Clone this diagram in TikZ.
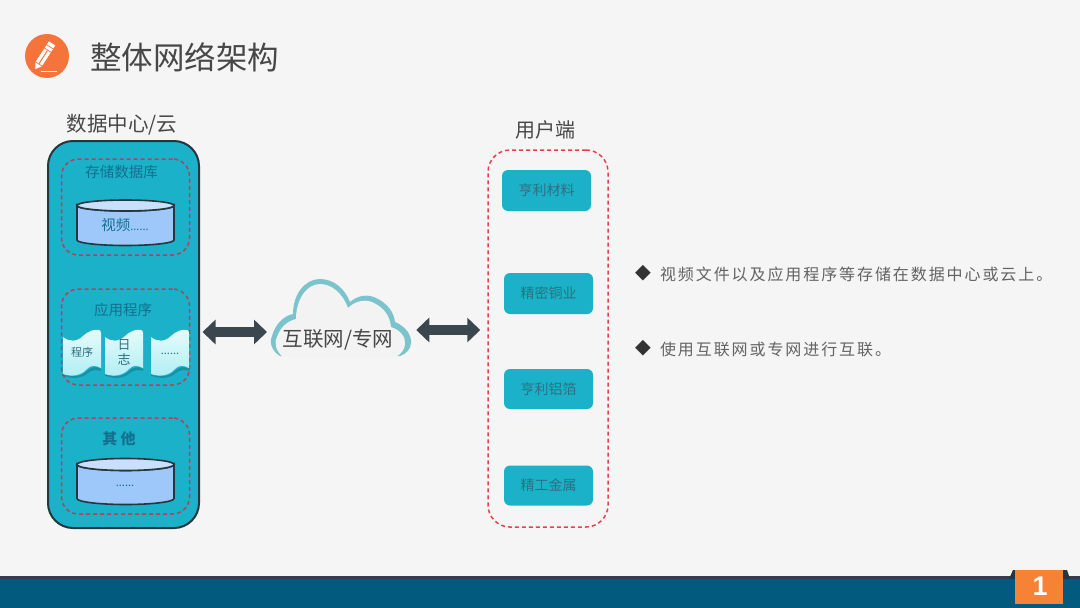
\documentclass[tikz,border=0pt]{standalone}
\usepackage{fontspec}
\setmainfont{Noto Sans CJK SC}
\newfontfamily\cardfont{Liberation Sans}
\usetikzlibrary{arrows.meta,calc}
\definecolor{bgc}{HTML}{F5F5F5}
\definecolor{tealc}{HTML}{1AB1C9}
\definecolor{dcline}{HTML}{25363F}
\definecolor{redd}{HTML}{B5405A}
\definecolor{redu}{HTML}{E8404F}
\definecolor{bluet}{HTML}{14708E}
\definecolor{grayt}{HTML}{474747}
\definecolor{boxt}{HTML}{2F7080}
\definecolor{oran}{HTML}{F4743B}
\definecolor{barc}{HTML}{025A7E}
\definecolor{cylb}{HTML}{9EC8F9}
\definecolor{cylt}{HTML}{C8E0FC}
\definecolor{arrowc}{HTML}{3A474E}
\definecolor{cloudo}{HTML}{7CC4CD}
\definecolor{cloudi}{HTML}{F3F3F3}
\definecolor{scrolltop}{HTML}{E6FBFB}
\definecolor{scrollbot}{HTML}{B0EEF4}
\tikzset{
  txt/.style={inner sep=0pt,outer sep=0pt,align=center},
  dcbox/.style={draw=dcline,line width=2pt,fill=tealc,rounded corners=25pt,minimum width=151pt,minimum height=387pt,inner sep=0pt},
  innerdash/.style={draw=redd,line width=1.5pt,dash pattern=on 4pt off 3pt,rounded corners=17pt,minimum width=128pt,inner sep=0pt},
  userdash/.style={draw=redu,line width=1.5pt,dash pattern=on 4pt off 3pt,rounded corners=22pt,minimum width=120pt,minimum height=377pt,inner sep=0pt},
  ubox/.style={fill=tealc,rounded corners=6pt,minimum width=89pt,minimum height=40pt,inner sep=0pt,font=\fontsize{14}{16}\selectfont,text=boxt},
  blockarrow/.style={draw=arrowc,line width=10pt,{Triangle[length=13pt,width=24pt]}-{Triangle[length=13pt,width=24pt]}},
  cylline/.style={draw=dcline,line width=1.6pt},
  scrollfill/.style={top color=scrolltop,bottom color=scrollbot,draw=none}
}
\newcommand{\cylshape}[4]{% x, ytopcentre, ybottomcentre, ry
  \path[cylline,fill=cylb] (#1,#2) arc[start angle=180,end angle=0,x radius=48.5,y radius=#4]
     -- (#1+97,#3) arc[start angle=0,end angle=180,x radius=48.5,y radius=#4] -- cycle;
  \path[cylline,fill=cylt] (#1+48.5,#2) ellipse[x radius=48.5,y radius=#4];
}
\newcommand{\scrollshape}[1]{% left x
  \begin{scope}[shift={(#1,0)}]
  \path[fill=black!45!tealc,opacity=.4] (0,373) .. controls (8,378) and (18,377) .. (24,371) .. controls (28,367) and (33,366) .. (38,369) -- (38,371) .. controls (33,369) and (29,370) .. (25,373) .. controls (18,379) and (8,379) .. (0,375.5) -- cycle;
  \path[scrollfill] (0,337) .. controls (6,342) and (14,342) .. (20,336) .. controls (25,331) and (31,329) .. (36,330) .. controls (37,330) and (38,331) .. (38,333)
     -- (38,368) .. controls (32,365) and (28,365) .. (24,369) .. controls (18,376) and (8,377) .. (0,374) -- cycle;
  \end{scope}
}
\begin{document}
\begin{tikzpicture}[x=1pt,y=-1pt]
\useasboundingbox (0,0) rectangle (1080,608);
\fill[bgc] (0,0) rectangle (1080,608);

% title
\fill[oran] (47,56) circle[radius=22];
\begin{scope}[shift={(35.5,69)},rotate=57]
  \fill[white] (0,0) -- (5.5,-3.8) -- (5.5,3.8) -- cycle;
  \fill[white] (6.5,-3.8) rectangle (22,3.8);
  \fill[white] (23,-3.8) rectangle (26,3.8);
  \fill[white] (27,-3.8) rectangle (30.5,3.8);
  \fill[oran] (6.5,-0.5) rectangle (22,0.5);
\end{scope}
\draw[white,line width=1pt] (41,71.5) -- (57,71.5);
\node[txt,anchor=west,text=grayt,font=\fontsize{31.5}{34}\selectfont] (title) at (90,57) {整体网络架构};

% data centre
\node[txt,text=grayt,font=\fontsize{20.5}{24}\selectfont] (dclabel) at (122,124.5) {数据中心/云};
\node[dcbox] (dc) at (123.5,334.5) {};
\node[innerdash,minimum height=96pt] (box1) at (125.5,207) {};
\node[innerdash,minimum height=96pt] (box2) at (125.5,337) {};
\node[innerdash,minimum height=96pt] (box3) at (125.5,466) {};

\node[txt,text=bluet,font=\fontsize{14.5}{16}\selectfont] (lb1) at (121.5,172) {存储数据库};
\cylshape{77}{205.5}{240}{5.5}
\node[txt,text=bluet,font=\fontsize{14.5}{16}\selectfont] (v1) at (125,225) {视频\fontsize{11}{13}\selectfont ......};

\node[txt,text=bluet,font=\fontsize{14.5}{16}\selectfont] (lb2) at (123,310) {应用程序};
\scrollshape{63}
\scrollshape{105}
\scrollshape{151}
\node[txt,text=boxt,font=\fontsize{11}{13}\selectfont] (s1) at (82,352) {程序};
\node[txt,text=boxt,font=\fontsize{13}{15}\selectfont] (s2) at (124,352) {日\\志};
\node[txt,text=boxt,font=\fontsize{11}{13}\selectfont] (s3) at (170,354) {......};

\node[txt,text=bluet,font=\fontsize{15}{17}\selectfont\bfseries] (lb3) at (119,439) {其 他};
\cylshape{77}{464.5}{498.5}{6}
\node[txt,text=bluet,font=\fontsize{11}{13}\selectfont] (v3) at (125,486) {......};

% cloud
\path[fill=cloudo] (280,356) .. controls (272,351) and (269,343) .. (272,336)
   .. controls (275,325) and (283,316) .. (293,314)
   .. controls (293,294) and (305,279) .. (320,279)
   .. controls (334,279) and (345,289) .. (350,302)
   .. controls (358,295) and (368,294) .. (376,298)
   .. controls (387,303) and (394,312) .. (395,322)
   .. controls (405,326) and (412,335) .. (411,343)
   .. controls (411,349) and (406,354) .. (400,356) -- cycle;
\path[fill=cloudi] (283,357) .. controls (276,351) and (274,344) .. (277,337)
   .. controls (280,328) and (287,321) .. (296,319)
   .. controls (296,299) and (307,284) .. (320,284)
   .. controls (332,284) and (343,294) .. (348,308)
   .. controls (356,300) and (367,299) .. (374,303)
   .. controls (384,308) and (390,316) .. (391,327)
   .. controls (400,330) and (406,337) .. (405,344)
   .. controls (405,349) and (401,354) .. (396,357) -- cycle;
\node[txt,text=grayt,font=\fontsize{20.5}{24}\selectfont] (cloud) at (338,340) {互联网/专网};

% user side
\node[txt,text=grayt,font=\fontsize{20}{24}\selectfont] (userlabel) at (545,130) {用户端};
\node[userdash] (user) at (548,338.5) {};
\node[ubox,minimum height=41pt] (u1) at (546.5,190.5) {亨利材料};
\node[ubox,minimum height=41pt] (u2) at (548.5,293.5) {精密铜业};
\node[ubox] (u3) at (548.5,389) {亨利铝箔};
\node[ubox] (u4) at (548.5,485.5) {精工金属};

% connectors
\draw[blockarrow] ([xshift=2.5pt,yshift=2.5pt]dc.east) -- ([xshift=67pt,yshift=2.5pt]dc.east);
\draw[blockarrow] ([xshift=-71pt]user.west |- 0,330) -- ([xshift=-7pt]user.west |- 0,330);

% bullets
\node[txt,text=black!80,font=\fontsize{20.5}{22}\selectfont] (bl1) at (643,273) {\fontspec{DejaVu Sans}◆};
\node[txt,anchor=west,text=grayt!85,font=\fontsize{16}{18}\selectfont] (t1) at (660,274) {\addfontfeature{LetterSpace=12}视频文件以及应用程序等存储在数据中心或云上。};
\node[txt,text=black!80,font=\fontsize{20.5}{22}\selectfont] (bl2) at (643,348) {\fontspec{DejaVu Sans}◆};
\node[txt,anchor=west,text=grayt!85,font=\fontsize{16}{18}\selectfont] (t2) at (660,349) {\addfontfeature{LetterSpace=12}使用互联网或专网进行互联。};

% footer
\fill[barc] (0,578) rectangle (1080,608);
\fill[dcline!85!gray] (0,576) rectangle (1080,579);
\fill[dcline] (1009,579) -- (1013,570) -- (1067,570) -- (1070,579) -- cycle;
\fill[oran!90!yellow] (1015,570) rectangle (1063,604);
\node[txt,text=white,font=\cardfont\fontsize{27}{30}\selectfont\bfseries] (pg) at (1040,586.5) {1};
\end{tikzpicture}
\end{document}
